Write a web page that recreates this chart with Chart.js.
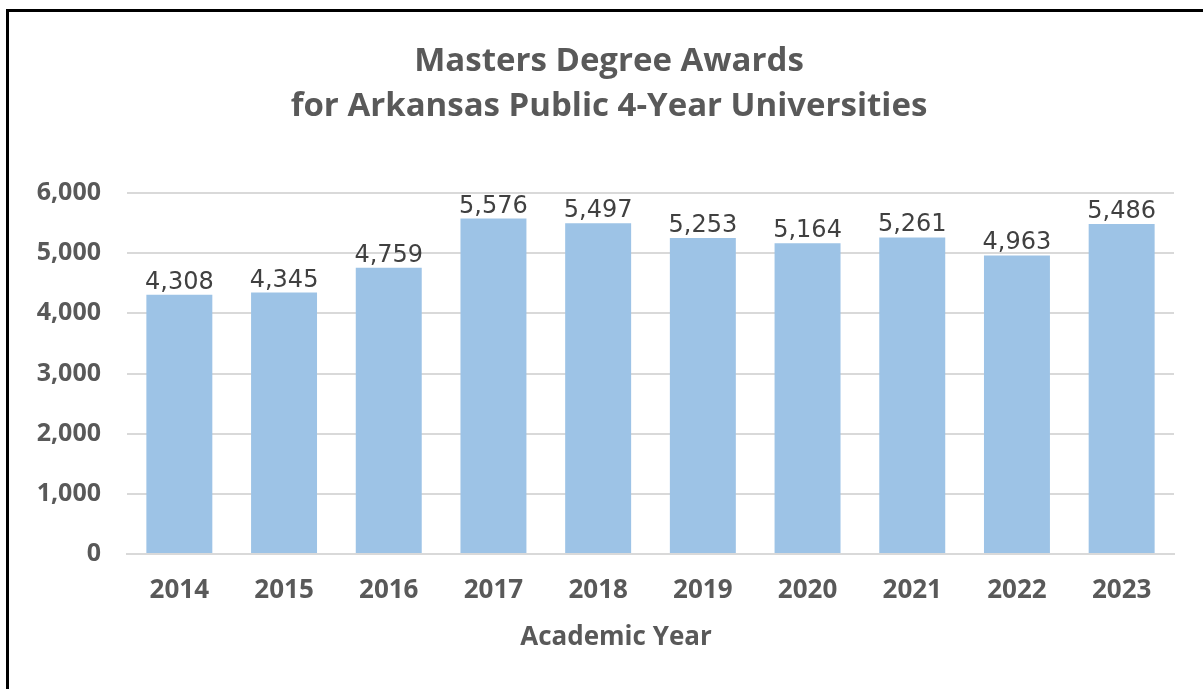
<!DOCTYPE html>
<html>
<head>
<meta charset="utf-8">
<script src="https://cdn.jsdelivr.net/npm/chart.js@4"></script>
<style>
    html, body { margin: 0; padding: 0; background: #fff; }
    #wrap { position: relative; width: 1203px; height: 689px; }
    #frame {
        position: absolute; left: 6px; top: 9px; right: 0; bottom: 0;
        border-top: 3px solid #000; border-left: 3px solid #000;
        pointer-events: none;
    }
</style>
</head>
<body>
<div id="wrap">
    <canvas id="awardsChart" width="1203" height="689"></canvas>
    <div id="frame"></div>
</div>
<script>
const years = ["2014", "2015", "2016", "2017", "2018", "2019", "2020", "2021", "2022", "2023"]
const awards = [4308, 4345, 4759, 5576, 5497, 5253, 5164, 5261, 4963, 5486]
const titleLines = ["Masters Degree Awards", "for Arkansas Public 4-Year Universities"]
const xTitle = "Academic Year"

const FONT = "'Open Sans', sans-serif"
const LABEL_FONT = "'DejaVu Sans', sans-serif"
const GREY = "#595959"

// value labels above each bar
const barLabels = {
    id: "barLabels",
    afterDatasetsDraw(chart) {
        const ctx = chart.ctx
        const meta = chart.getDatasetMeta(0)
        ctx.save()
        ctx.font = "24px " + LABEL_FONT
        ctx.fillStyle = "#404040"
        ctx.textAlign = "center"
        ctx.textBaseline = "alphabetic"
        meta.data.forEach((bar, i) => {
            ctx.fillText(awards[i].toLocaleString("en-US"), bar.x, bar.y - 6)
        })
        ctx.restore()
    }
}

// the original centres its titles on the frame, not on the plot
const titleShift = {
    id: "titleShift",
    afterLayout(chart) {
        if (chart.titleBlock) chart.titleBlock.left += 24
    },
    afterDraw(chart) {
        const ctx = chart.ctx
        const tb = chart.titleBlock
        const x = chart.scales.x
        ctx.save()
        ctx.font = "bold 26px " + FONT
        ctx.fillStyle = GREY
        ctx.textAlign = "center"
        ctx.textBaseline = "middle"
        ctx.fillText(xTitle, (tb.left + tb.right) / 2 + 7, x.bottom - 15.6)
        ctx.restore()
    }
}

new Chart(document.getElementById("awardsChart"), {
    type: "bar",
    data: {
        labels: years,
        datasets: [{
            data: awards,
            backgroundColor: "#9dc3e6",
            barPercentage: 0.63,
            categoryPercentage: 1.0
        }]
    },
    options: {
        responsive: false,
        animation: false,
        layout: { padding: { left: 20, right: 29, top: 0, bottom: 35.6 } },
        plugins: {
            legend: { display: false },
            tooltip: { enabled: false },
            title: {
                display: true,
                text: titleLines,
                color: GREY,
                font: { family: FONT, size: 33, weight: "bold", lineHeight: 45 / 33 },
                padding: { top: 39.5, bottom: 63.5 }
            }
        },
        scales: {
            x: {
                grid: { display: false, drawTicks: false },
                border: { color: "#d9d9d9", width: 2 },
                ticks: { color: GREY, font: { family: FONT, size: 26, weight: "bold", lineHeight: 1.2 }, padding: 21 },
                // keeps the room for the axis title, which titleShift draws
                title: {
                    display: true,
                    text: xTitle,
                    color: "rgba(0,0,0,0)",
                    font: { family: FONT, size: 26, weight: "bold", lineHeight: 1.2 },
                    padding: { top: -5, bottom: 0 }
                }
            },
            y: {
                min: 0,
                max: 6000,
                grid: { color: "#d9d9d9", lineWidth: 2, drawTicks: false },
                border: { display: false },
                ticks: {
                    stepSize: 1000,
                    color: GREY,
                    padding: 26,
                    font: { family: FONT, size: 25, weight: "bold" },
                    callback: v => v.toLocaleString("en-US")
                },
                afterFit: scale => { scale.width = 107 }
            }
        }
    },
    plugins: [barLabels, titleShift]
});
</script>
</body>
</html>
